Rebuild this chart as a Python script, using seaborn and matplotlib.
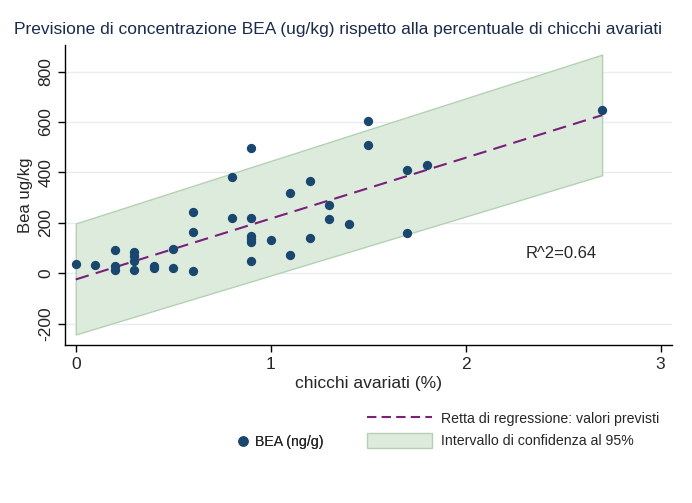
import matplotlib
matplotlib.use("Agg")
import matplotlib.pyplot as plt
from matplotlib.lines import Line2D
from matplotlib.patches import Patch
import numpy as np
import pandas as pd
import seaborn as sns

# data
chicchi = [0.0, 0.1, 0.2, 0.2, 0.2, 0.3, 0.3, 0.3, 0.3, 0.4, 0.4,
           0.5, 0.5, 0.6, 0.6, 0.6, 0.8, 0.8, 0.9, 0.9, 0.9, 0.9, 0.9,
           0.9, 1.0, 1.1, 1.1, 1.2, 1.2, 1.3, 1.3, 1.4, 1.5, 1.5,
           1.7, 1.7, 1.8, 2.7]
bea = [37, 34, 92, 28, 12, 85, 68, 48, 12, 30, 20,
       97, 20, 243, 163, 10, 380, 220, 496, 218, 150, 136, 125,
       50, 133, 317, 71, 368, 140, 273, 216, 194, 604, 508,
       410, 161, 430, 648]

# fitted line and 95% band
fit_x = [0.0, 2.7]
fit_y = [-24, 627]
band_lo = [-242, 389]
band_hi = [198, 867]

yticks = [-200, 0, 200, 400, 600, 800]
xticks = [0, 1, 2, 3]

navy = "#1a476f"
purple = "#7a1f7a"
band_fill = "#dcebdc"
band_edge = "#b5d1b5"
dash = (0, (6.5, 3.5))

sns.set_style("white")
plt.rcParams['font.family'] = ['Liberation Sans', 'DejaVu Sans']

df = pd.DataFrame({"x": chicchi, "y": bea})
fit = pd.DataFrame({"x": fit_x, "y": fit_y})

fig = plt.figure(figsize=(6.92, 5.03), dpi=100)
ax = fig.add_axes([0.094, 0.314, 0.877, 0.596])

ax.fill_between(fit_x, band_lo, band_hi, color=band_fill, edgecolor=band_edge,
                linewidth=1.0, zorder=1)
sns.lineplot(data=fit, x="x", y="y", ax=ax, color=purple, linestyle=dash,
             linewidth=1.5, zorder=3)
sns.scatterplot(data=df, x="x", y="y", ax=ax, color=navy, s=45, edgecolor=navy,
                linewidth=0, zorder=4)

ax.set_xlim(-0.055, 3.058)
ax.set_ylim(-284, 904)
ax.set_xticks(xticks)
ax.set_yticks(yticks)
ax.set_yticklabels([str(v) for v in yticks], rotation=90, va="center")
ax.tick_params(axis="both", labelsize=12.5, length=5, width=1, color="black",
               direction="out", bottom=True, left=True)
ax.grid(axis="y", color="#e8eef0", linewidth=1)
ax.set_axisbelow(True)
for s in ["top", "right"]:
    ax.spines[s].set_visible(False)
for s in ["left", "bottom"]:
    ax.spines[s].set_color("black")
    ax.spines[s].set_linewidth(1)

ax.set_xlabel("chicchi avariati (%)", fontsize=12.6, labelpad=3)
ax.set_ylabel("Bea ug/kg", fontsize=12)
ax.text(2.49, 80, "R^2=0.64", fontsize=12, ha="center", va="center")

fig.text(0.488, 0.942, "Previsione di concentrazione BEA (ug/kg) rispetto alla percentuale di chicchi avariati",
         fontsize=12.5, color="#1a2b4c", ha="center", va="center")

# legend: marker on its own at the left, line and band on the right
leg1 = fig.legend(handles=[Line2D([], [], marker="o", color=navy, linestyle="none",
                                  markersize=6.5, label="BEA (ng/g)")],
                  loc="center left", bbox_to_anchor=(236 / 692, 1 - 442 / 503),
                  frameon=False, fontsize=10.2, handlelength=1.0,
                  handletextpad=0.35, borderpad=0, borderaxespad=0)
fig.add_artist(leg1)
fig.legend(handles=[Line2D([], [], color=purple, linestyle=(0, (4.5, 2.5)), linewidth=1.5,
                           label="Retta di regressione: valori previsti"),
                    Patch(facecolor=band_fill, edgecolor=band_edge,
                          label="Intervallo di confidenza al 95%")],
           loc="upper left", bbox_to_anchor=(367 / 692, 1 - 411 / 503),
           frameon=False, fontsize=10.2, handlelength=4.6, handleheight=1.3,
           handletextpad=0.65, labelspacing=0.45, borderpad=0, borderaxespad=0)

fig.savefig("out.png", dpi=100)
